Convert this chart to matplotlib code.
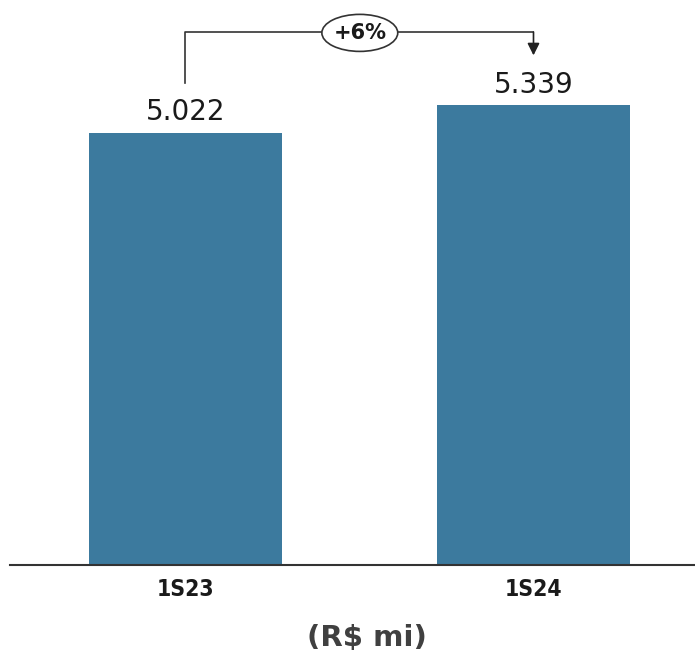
import numpy as np
import matplotlib.pyplot as plt
from matplotlib.patches import Ellipse

categorias = ['1S23', '1S24']
valores = [5.022, 5.339]
rotulos = ['5.022', '5.339']
variacao = '+6%'
unidade = '(R$ mi)'

cor_barra = '#3c7a9e'

fig = plt.figure(figsize=(6.95, 6.56), dpi=100)
ax = fig.add_axes([10 / 695, 91 / 656, 685 / 695, 565 / 656])

x = np.arange(len(categorias))
ax.bar(x, valores, width=0.555, color=cor_barra, zorder=2)

ax.set_xlim(-0.504, 1.464)
ax.set_ylim(0, 6.562)

# rotulos de valor acima das barras
for xi, v, r in zip(x, valores, rotulos):
    ax.annotate(r, (xi, v), xytext=(0, 9), textcoords='offset points',
                ha='center', va='baseline', fontsize=20, color='#1a1a1a')

# colchete com a variacao
y_linha = 6.19
ax.plot([x[0], x[0], x[1]], [valores[0] + 0.58, y_linha, y_linha],
        color='#333333', lw=1.2, zorder=3)
ax.annotate('', xy=(x[1], valores[1] + 0.58), xytext=(x[1], y_linha),
            arrowprops=dict(arrowstyle='-|>', color='#222222', lw=1.2,
                            mutation_scale=18, shrinkA=0, shrinkB=0),
            zorder=3)
elipse = Ellipse((0.501, y_linha - 0.01), 0.218, 0.43, facecolor='white',
                 edgecolor='#333333', lw=1.2, zorder=4)
ax.add_patch(elipse)
ax.text(0.501, y_linha - 0.01, variacao, ha='center', va='center',
        fontsize=15, fontweight='bold', color='#1a1a1a', zorder=5)

for s in ['top', 'right', 'left']:
    ax.spines[s].set_visible(False)
ax.spines['bottom'].set_color('#333333')
ax.spines['bottom'].set_linewidth(1.5)
ax.set_yticks([])
ax.set_xticks(x)
ax.set_xticklabels(categorias)
ax.tick_params(axis='x', length=0, pad=9, labelsize=16.5, labelcolor='#1a1a1a')
for lab in ax.get_xticklabels():
    lab.set_fontstretch('condensed')
    lab.set_fontweight('bold')

fig.text(367 / 695, (656 - 638) / 656, unidade, ha='center', va='center',
         fontsize=21, fontweight='bold', color='#404040')

plt.savefig('out.png', dpi=100)
